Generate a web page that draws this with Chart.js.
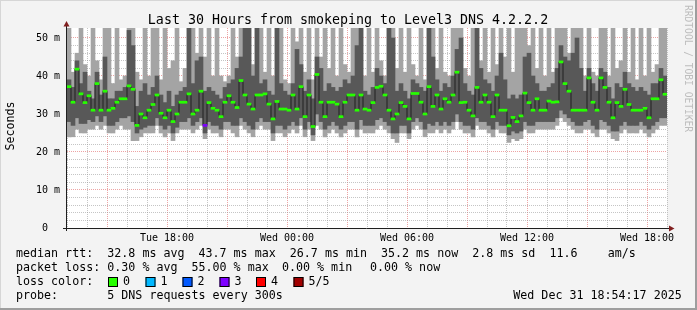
<!DOCTYPE html>
<html>
<head>
<meta charset="utf-8">
<script src="https://cdn.jsdelivr.net/npm/chart.js@4/dist/chart.umd.min.js"></script>
<style>
  html, body { margin: 0; padding: 0; background: #f3f3f3; }
  #c { display: block; }
</style>
</head>
<body>
<canvas id="c" width="697" height="310"></canvas>
<script>
// ── Data: 150 bins of 12 min, starting Tue 13:00 (x in hours) ──────────
const BIN_H = 0.2;

// median rtt per bin (ms)
const med = [
  37.2, 33.1, 41.8, 35.3, 33.0, 34.8, 31.0, 38.0, 31.0, 36.0,
  31.0, 31.5, 33.1, 34.0, 34.0, 37.4, 36.5, 27.0, 30.0, 29.0,
  31.0, 32.5, 35.0, 30.2, 29.0, 31.0, 28.0, 30.0, 33.1, 33.1,
  35.3, 30.0, 31.0, 36.0, 27.0, 33.0, 31.5, 31.0, 29.3, 33.1,
  34.8, 33.1, 31.7, 38.8, 35.0, 32.6, 31.3, 35.0, 35.0, 35.3,
  32.6, 28.7, 33.3, 31.3, 31.3, 31.0, 35.0, 31.3, 37.2, 29.3,
  35.0, 26.7, 40.4, 33.1, 29.3, 33.1, 33.1, 32.6, 29.3, 33.1,
  35.0, 35.0, 31.0, 35.0, 31.3, 31.0, 33.0, 37.0, 37.3, 35.0,
  31.0, 28.7, 30.0, 33.0, 32.0, 28.7, 35.4, 35.4, 33.1, 30.0,
  37.2, 32.0, 35.0, 31.3, 34.0, 33.1, 35.0, 41.0, 33.0, 33.1,
  31.0, 29.5, 37.0, 33.1, 35.0, 33.1, 29.3, 35.0, 31.0, 31.0,
  26.9, 29.1, 28.0, 29.5, 35.5, 33.0, 31.0, 34.0, 31.0, 31.0,
  33.4, 33.1, 33.2, 43.7, 38.0, 36.0, 31.0, 31.0, 31.0, 31.0,
  39.5, 33.1, 31.0, 39.5, 37.0, 33.1, 29.0, 33.0, 32.0, 36.5,
  32.5, 31.0, 31.0, 31.0, 31.5, 29.0, 34.0, 34.0, 39.0, 35.2
];

// smoke: sorted pings 1..5 (p3 = median)
const ping1 = [
  24, 24, 26, 25, 25, 26, 26, 27, 26, 27,
  25, 25, 26, 27, 26, 26, 23, 23, 24, 25,
  25, 25, 27, 25, 24, 25, 23, 25, 26, 26,
  26, 25, 26, 27, 23.5, 26, 25, 25, 24, 26,
  26, 25, 24, 27, 26, 25, 24, 26, 27, 26,
  26, 23, 25, 25, 24, 25, 26, 25, 27, 24,
  26, 23, 27, 26, 24, 25, 26, 25, 24, 25,
  26, 26, 24, 26, 25, 25, 25, 26, 27, 26,
  25, 23.5, 22.5, 25, 25, 23.5, 26, 27, 26, 24,
  25, 25, 26, 25, 26, 25, 26, 28, 26, 25,
  25, 24, 27, 26, 26, 25, 24, 26, 25, 25,
  22.5, 23.5, 23, 23.5, 26, 25, 25, 26, 26, 26,
  26, 26, 27, 29, 28, 27, 26, 25, 25, 26,
  26, 25, 24, 26, 26, 25, 23.5, 23, 25, 26,
  25, 25, 25, 26, 25, 24, 25, 26, 27, 27
];
const ping2 = [
  28, 27, 29, 27.5, 27.5, 28.5, 28, 29.5, 28, 29.5,
  27, 27, 28, 29, 29, 29.5, 28, 25, 26, 26.5,
  27, 27, 29, 27, 26, 27, 25, 26.5, 28, 28,
  29, 27, 28, 29, 25, 28, 27, 27, 26, 28,
  28, 27, 27, 29, 28, 27, 26, 28, 29, 28,
  28, 25, 27, 27, 26, 27, 28, 27, 29, 26,
  28, 24.5, 30, 28, 26, 27, 28, 27, 26, 27,
  28, 28, 26, 28.5, 27, 27, 27, 28.5, 29, 28,
  27, 25, 25, 27, 27, 25, 28, 29, 28, 26,
  27.5, 27, 28, 27, 28, 27, 28, 30, 28, 27,
  27, 26, 29, 28, 28, 27, 26, 28, 27, 27,
  24.5, 25.5, 25, 25.5, 28, 27, 27, 28, 28, 28,
  28, 28, 29, 31, 30, 29, 28, 27, 27, 28,
  28.5, 27, 26, 28.5, 28, 27, 25.5, 25.5, 27, 28,
  27, 27, 27, 28, 27, 26, 27, 28, 29, 29
];
const ping4 = [
  39, 37, 44, 38, 41, 36, 34, 41, 35, 45,
  34, 34, 36, 36, 37, 52, 48, 32, 36, 38,
  35, 37, 40, 35, 33, 36, 32, 35, 36, 37,
  60, 38, 44, 45, 36, 37, 36, 35, 34, 37,
  38, 39, 42, 45, 60, 60, 40, 55, 38, 39,
  36, 35, 60, 38, 36, 35, 38, 47, 43, 36,
  39, 34, 45, 42, 36, 38, 37, 36, 37, 39,
  38, 40, 48, 60, 36, 35, 37, 42, 40, 38,
  60, 50, 36, 38, 36, 34, 39, 38, 37, 36,
  55, 45, 39, 36, 38, 37, 40, 47, 50, 38,
  36, 35, 60, 42, 39, 38, 36, 40, 46, 39,
  34, 35, 34, 35, 45, 46, 40, 38, 36, 36,
  37, 38, 42, 48, 45, 44, 46, 50, 42, 36,
  42, 38, 36, 42, 41, 37, 34, 38, 37, 41,
  38, 37, 36, 37, 36, 35, 38, 38, 42, 40
];
const ping5 = [
  60, 41, 46, 60, 43, 40, 60, 44, 39, 60,
  60, 38, 60, 39, 40, 60, 60, 41, 39, 60,
  40, 60, 60, 39, 60, 42, 44, 60, 38.5, 42,
  60, 60, 46, 60, 45, 60, 40, 60, 40, 38.5,
  40, 60, 45, 60, 60, 60, 43, 60, 60, 41,
  60, 40, 60, 60, 39, 38, 60, 49, 60, 41,
  60, 39, 60, 45, 60, 42, 60, 40, 60, 43,
  41, 60, 60, 60, 40, 60, 41, 60, 44, 40,
  60, 60, 42, 60, 41, 60, 43, 40, 60, 39,
  60, 60, 42, 60, 41, 40, 60, 60, 60, 42,
  40, 60, 60, 44, 60, 41, 60, 43, 60, 45,
  60, 41, 60, 60, 60, 48, 60, 42, 60, 40,
  60, 41, 60, 60, 60, 46, 60, 60, 60, 40,
  60, 41, 40, 60, 60, 40, 60, 42, 44, 60,
  41, 60, 39, 60, 40, 60, 41, 43, 60, 60
];

// pings lost per bin (index into LOSS_COLORS)
const lost = [
  0,0,0,0,0,0,0,0,0,0, 0,0,0,0,0,0,0,0,0,0, 0,0,0,0,0,0,0,0,0,0,
  0,0,0,0,3,0,0,0,0,0, 0,0,0,0,0,0,0,0,0,0, 0,0,0,0,0,0,0,0,0,0,
  0,0,0,0,0,0,0,0,0,0, 0,0,0,0,0,0,0,0,0,0, 0,0,0,0,0,0,0,0,0,0,
  0,0,0,0,0,0,0,0,0,0, 0,0,0,0,0,0,0,0,0,0, 0,0,0,0,0,0,0,0,0,0,
  0,0,0,0,0,0,0,0,0,0, 0,0,0,0,0,0,0,0,0,0, 0,0,0,0,0,0,0,0,0,0
];

const LOSS_COLORS = ['#26ff00', '#00b8ff', '#0059ff', '#7e00ff', '#ff0000', '#a10000'];
const LOSS_LABELS = ['0', '1', '2', '3', '4', '5/5'];

// axis labels
const xLabelHours = [5, 11, 17, 23, 29];
const xLabelTexts = ['Tue 18:00', 'Wed 00:00', 'Wed 06:00', 'Wed 12:00', 'Wed 18:00'];
const START_HOUR  = 13;
const Y_MAX       = 52.63;

// ── Datasets ──────────────────────────────────────────────────
const mid = i => (i + 0.5) * BIN_H;
const outerSmoke = ping1.map((v, i) => ({ x: mid(i), y: [v, ping5[i]] }));
const innerSmoke = ping2.map((v, i) => ({ x: mid(i), y: [v, ping4[i]] }));
const medianLine = med.map((v, i) => ({ x: i * BIN_H, y: v }))
  .concat([{ x: med.length * BIN_H, y: med[med.length - 1] }]);
const medianMarks = med.map((v, i) => ({ x: mid(i), y: [v - 0.27, v + 0.27] }));

const MONO = "'DejaVu Sans Mono', monospace";
const GRID_MINOR = 'rgba(150,150,150,0.55)';
const GRID_MAJOR = 'rgba(222,90,90,0.55)';

const barBase = { grouped: false, barPercentage: 1, categoryPercentage: 1, borderWidth: 0 };

// ── Frame, axes, title and legend ─────────────────────────────
const rrdFrame = {
  id: 'rrdFrame',
  beforeDraw(chart) {
    const { ctx, chartArea: a } = chart;
    ctx.save();
    ctx.fillStyle = '#f3f3f3';
    ctx.fillRect(0, 0, chart.width, chart.height);
    ctx.fillStyle = '#ffffff';
    ctx.fillRect(a.left, a.top, a.right - a.left, a.bottom - a.top);
    ctx.restore();
  },
  afterDraw(chart) {
    const { ctx, chartArea: a } = chart;
    ctx.save();

    // outer bevel
    ctx.fillStyle = '#d6d6d6';
    ctx.fillRect(0, 0, chart.width, 1);
    ctx.fillRect(0, 0, 1, chart.height);
    ctx.fillStyle = '#9e9e9e';
    ctx.fillRect(0, chart.height - 2, chart.width, 2);
    ctx.fillRect(chart.width - 2, 0, 2, chart.height);

    // axes
    ctx.strokeStyle = '#1f1f1f';
    ctx.lineWidth = 1;
    ctx.beginPath();
    ctx.moveTo(a.left - 4, a.bottom + 0.5);
    ctx.lineTo(a.right + 3, a.bottom + 0.5);
    ctx.moveTo(a.left - 0.5, a.bottom + 3);
    ctx.lineTo(a.left - 0.5, a.top - 2);
    ctx.stroke();

    // arrows
    ctx.fillStyle = '#801f1f';
    ctx.beginPath();
    ctx.moveTo(a.right + 2, a.bottom - 2.5);
    ctx.lineTo(a.right + 7.5, a.bottom + 0.5);
    ctx.lineTo(a.right + 2, a.bottom + 3.5);
    ctx.closePath();
    ctx.fill();
    ctx.beginPath();
    ctx.moveTo(a.left - 3.5, a.top - 1.5);
    ctx.lineTo(a.left - 0.5, a.top - 7);
    ctx.lineTo(a.left + 2.5, a.top - 1.5);
    ctx.closePath();
    ctx.fill();

    // title
    ctx.fillStyle = '#000';
    ctx.font = `13.3px ${MONO}`;
    ctx.textAlign = 'center';
    ctx.textBaseline = 'alphabetic';
    ctx.fillText('Last 30 Hours from smokeping to Level3 DNS 4.2.2.2', 348, 23.5);

    // y title
    ctx.save();
    ctx.translate(11, 126);
    ctx.rotate(-Math.PI / 2);
    ctx.font = `11.66px ${MONO}`;
    ctx.textBaseline = 'middle';
    ctx.fillText('Seconds', 0, 0);
    ctx.restore();

    // watermark
    ctx.save();
    ctx.translate(685, 5);
    ctx.rotate(Math.PI / 2);
    ctx.font = `9.6px ${MONO}`;
    ctx.fillStyle = '#bdbdbd';
    ctx.textAlign = 'left';
    ctx.textBaseline = 'alphabetic';
    ctx.fillText('RRDTOOL / TOBI OETIKER', 0, 0);
    ctx.restore();

    // legend rows
    ctx.font = `11.66px ${MONO}`;
    ctx.textAlign = 'left';
    ctx.textBaseline = 'middle';
    const rows = [
      [254, [[16, 'median rtt:'], [107.3, '32.8 ms avg'], [198.5, '43.7 ms max'], [289.8, '26.7 ms min'],
             [381, '35.2 ms now'], [472.2, '2.8 ms sd'], [549.4, '11.6'], [607.7, 'am/s']]],
      [268, [[16, 'packet loss:'], [107.3, '0.30 % avg'], [191.5, '55.00 % max'], [282, '0.00 % min'],
             [370, '0.00 % now']]],
      [282, [[16, 'loss color:']]],
      [296, [[16, 'probe:'], [107.3, '5 DNS requests every 300s'], [513.3, 'Wed Dec 31 18:54:17 2025']]],
    ];
    rows.forEach(([y, items]) => items.forEach(([x, t]) => ctx.fillText(t, x, y)));

    // loss colour swatches
    const swX = [108, 145.5, 182.5, 219.5, 256, 293.5];
    LOSS_COLORS.forEach((c, i) => {
      ctx.fillStyle = c;
      ctx.fillRect(swX[i], 277, 10, 10);
      ctx.strokeStyle = '#000';
      ctx.strokeRect(swX[i] + 0.5, 277.5, 9, 9);
      ctx.fillStyle = '#000';
      ctx.fillText(LOSS_LABELS[i], swX[i] + 15, 282);
    });

    ctx.restore();
  }
};

// ── Chart ─────────────────────────────────────────────────────
new Chart(document.getElementById('c'), {
  type: 'bar',
  data: {
    datasets: [
      { ...barBase, label: 'smoke 1-5', data: outerSmoke, backgroundColor: '#a4a4a4', order: 4 },
      { ...barBase, label: 'smoke 2-4', data: innerSmoke, backgroundColor: '#585858', order: 3 },
      { type: 'line', label: 'median', data: medianLine, borderColor: '#202020', borderWidth: 1,
        pointRadius: 0, stepped: true, order: 2 },
      { ...barBase, label: 'loss', data: medianMarks, backgroundColor: lost.map(l => LOSS_COLORS[l]), order: 1 },
    ],
  },
  options: {
    responsive: false,
    animation: false,
    devicePixelRatio: 1,
    events: [],
    layout: { padding: { left: 0, top: 28, right: 30, bottom: 62 } },
    plugins: { legend: { display: false }, tooltip: { enabled: false } },
    scales: {
      x: {
        type: 'linear', min: 0, max: 30, offset: false, z: 1,
        afterBuildTicks: s => { s.ticks = s.ticks.filter(t => Number.isInteger(t.value)); },
        afterFit: s => { s.height = 20; },
        ticks: {
          stepSize: 1, autoSkip: false, maxRotation: 0, padding: 4, color: '#000',
          font: { family: MONO, size: 10 },
          callback: v => {
            const i = xLabelHours.indexOf(v);
            return i >= 0 ? xLabelTexts[i] : '';
          },
        },
        grid: {
          offset: false, drawTicks: false, lineWidth: 1,
          color: c => ((START_HOUR + c.tick.value) % 3 === 0 ? GRID_MAJOR : GRID_MINOR),
        },
        border: { display: false, dash: [1, 1] },
      },
      y: {
        min: 0, max: Y_MAX, z: 1,
        afterBuildTicks: s => { s.ticks = s.ticks.filter(t => t.value % 2 === 0); },
        afterFit: s => { s.width = 67; },
        ticks: {
          stepSize: 2, autoSkip: false, padding: 7, color: '#000',
          font: { family: MONO, size: 10 },
          callback: v => (v % 10 === 0 ? (v === 0 ? '0  ' : v + ' m') : ''),
        },
        grid: {
          drawTicks: false, lineWidth: 1,
          color: c => (c.tick.value % 10 === 0 ? GRID_MAJOR : GRID_MINOR),
        },
        border: { display: false, dash: [1, 1] },
      },
    },
  },
  plugins: [rrdFrame],
});
</script>
</body>
</html>
